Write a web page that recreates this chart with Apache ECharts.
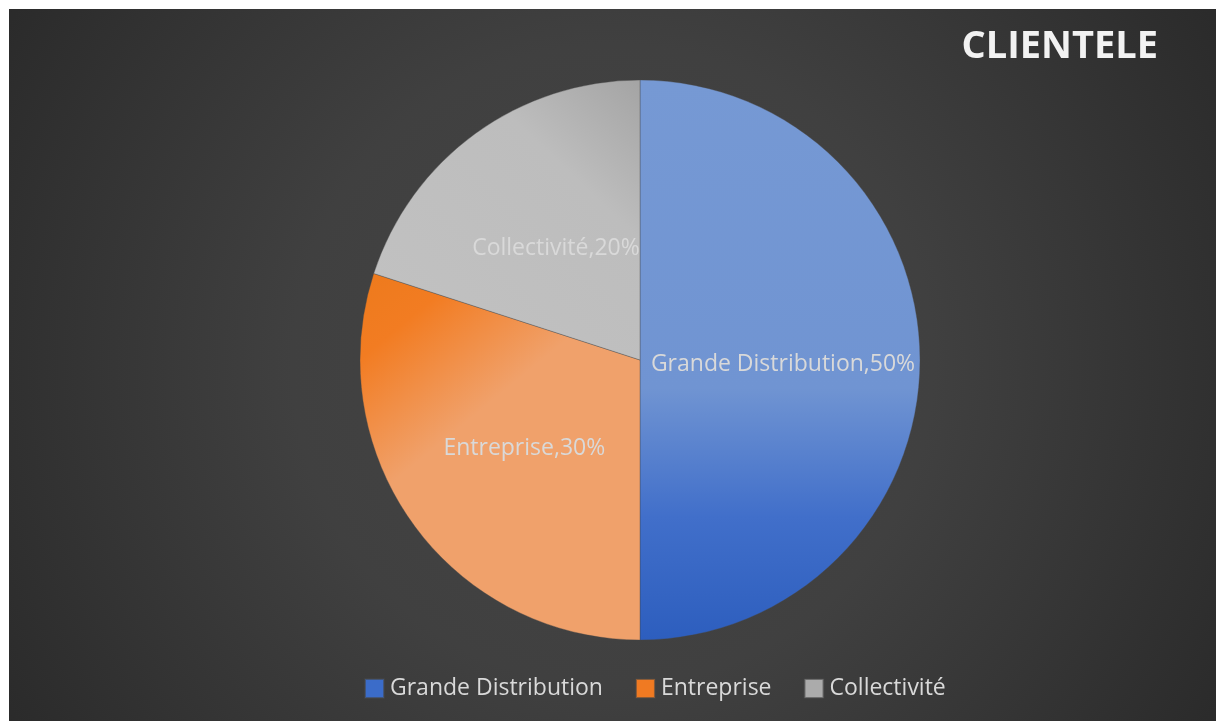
<!DOCTYPE html>
<html>
<head>
<meta charset="utf-8">
<script src="https://cdn.jsdelivr.net/npm/echarts@6/dist/echarts.min.js"></script>
<style>
  html, body { margin: 0; padding: 0; background: #ffffff; }
  #container { position: absolute; left: 9px; top: 9px; width: 1207px; height: 712px; }
</style>
</head>
<body>
<div id="container"></div>
<script>
var categories = ['Grande Distribution', 'Entreprise', 'Collectivité'];
var shares = [50, 30, 20];
var legendColors = ['#3b6cc9', '#f07a22', '#ababab'];

// slice fills (gradients like the original office theme)
var sliceFills = [
    {type: 'linear', x: 0, y: 0, x2: 0, y2: 1, colorStops: [
        {offset: 0, color: '#7699d4'}, {offset: 0.55, color: '#7094d2'},
        {offset: 0.78, color: '#416fca'}, {offset: 1, color: '#2d5ebe'}]},
    {type: 'linear', x: 0, y: 0, x2: 0.75, y2: 0.7, colorStops: [
        {offset: 0, color: '#ed7a1c'}, {offset: 0.2, color: '#f27c22'},
        {offset: 0.55, color: '#f0a16b'}, {offset: 1, color: '#f0a16b'}]},
    {type: 'linear', x: 0, y: 1, x2: 1, y2: 0, colorStops: [
        {offset: 0, color: '#c2c2c2'}, {offset: 0.7, color: '#bdbdbd'},
        {offset: 1, color: '#a4a4a4'}]}
];

var dom = document.getElementById('container');
var myChart = echarts.init(dom);

var pieData = [];
var legendData = [];
for (var i = 0; i < categories.length; i++) {
    pieData.push({name: categories[i], value: shares[i], itemStyle: {color: sliceFills[i]}});
    legendData.push({name: categories[i], itemStyle: {color: legendColors[i]}});
}

var option = {
    animation: false,
    backgroundColor: {
        type: 'radial', x: 0.5, y: 0.5, r: 1,
        colorStops: [{offset: 0, color: '#454545'}, {offset: 0.45, color: '#404040'}, {offset: 1, color: '#2a2a2a'}]
    },
    title: {
        text: 'CLIENTELE',
        right: 53,
        top: 14,
        textStyle: {color: '#f2f2f2', fontFamily: 'Open Sans', fontWeight: 'bold', fontSize: 38}
    },
    legend: {
        bottom: 16,
        left: 350,
        itemWidth: 19,
        itemHeight: 19,
        itemGap: 32,
        icon: 'rect',
        data: legendData,
        textStyle: {color: '#d9d9d9', fontFamily: 'Open Sans', fontSize: 23, padding: [0, 0, 0, 1]}
    },
    series: [{
        type: 'pie',
        center: [631, 351],
        radius: 280,
        startAngle: 90,
        clockwise: true,
        data: pieData,
        itemStyle: {borderColor: 'rgba(70,70,70,0.6)', borderWidth: 0.6},
        label: {
            position: 'inside',
            formatter: '{b},{d}%',
            color: '#d9d9d9',
            fontFamily: 'Open Sans',
            fontSize: 23,
            offset: [0, 4]
        },
        labelLine: {show: false},
        emphasis: {disabled: true}
    }]
};

myChart.setOption(option, true);
</script>
</body>
</html>
